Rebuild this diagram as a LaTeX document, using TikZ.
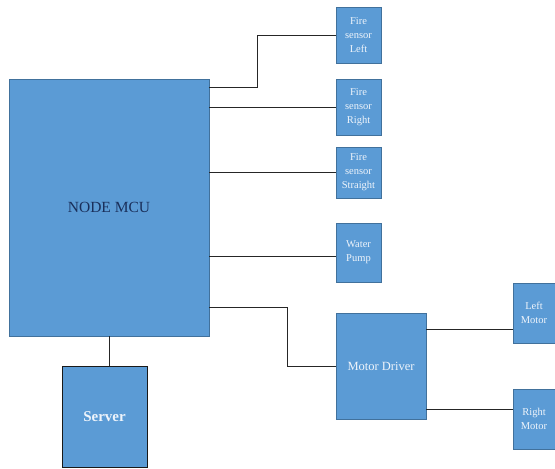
\documentclass[tikz,border=0pt]{standalone}
\usepackage{fontspec}
\setmainfont{Liberation Serif}
\usepackage{tikz}
\usetikzlibrary{calc}
\definecolor{boxblue}{HTML}{5B9BD5}
\definecolor{edgeblue}{HTML}{41719C}
\definecolor{paletext}{HTML}{EEF4FB}
\definecolor{navy}{HTML}{1A2F5A}
\tikzset{block/.style={draw=edgeblue,fill=boxblue,line width=0.8pt,align=center,inner sep=1pt,text=paletext,font=\fontsize{10.5}{14}\selectfont},
  link/.style={draw=black!85,line width=1pt}}

\begin{document}
\begin{tikzpicture}[x=1pt,y=-1pt]
\useasboundingbox (0,0) rectangle (555,469);
\node[block,minimum width=200,minimum height=257,text=navy,font=\fontsize{15.5}{18}\selectfont] (mcu) at (109,207.5) {NODE MCU};
\node[block,minimum width=45,minimum height=56] (fsl) at (358.5,35) {Fire\\sensor\\Left};
\node[block,minimum width=45,minimum height=56] (fsr) at (358.5,107) {Fire\\sensor\\Right};
\node[block,minimum width=45,minimum height=51] (fss) at (358.5,172.5) {Fire\\sensor\\Straight};
\node[block,minimum width=45,minimum height=59] (wp) at (358.5,252.5) {Water\\Pump};
\node[block,minimum width=90,minimum height=106,font=\fontsize{12.5}{14}\selectfont] (md) at (381,366) {Motor Driver};
\node[block,minimum width=42,minimum height=60] (lm) at (534,313) {Left\\Motor};
\node[block,minimum width=42,minimum height=60] (rm) at (534,419) {Right\\Motor};
\node[block,draw=black!90,line width=1pt,minimum width=85,minimum height=101,font=\fontsize{15}{18}\selectfont\bfseries] (srv) at (104.5,416.5) {Server};
\draw[link] (mcu.east |- 0,87) -- (257,87) |- (fsl.west);
\draw[link] (mcu.east |- fsr.west) -- (fsr.west);
\draw[link] (mcu.east |- fss.west) -- (fss.west);
\draw[link] (mcu.east |- 0,256) -- (wp.west |- 0,256);
\draw[link] (mcu.east |- 0,307) -- (287,307) |- (md.west);
\draw[link] (md.east |- 0,329) -- (lm.west |- 0,329);
\draw[link] (md.east |- 0,409) -- (rm.west |- 0,409);
\draw[link] (mcu.south) -- (mcu.south |- srv.north);
\end{tikzpicture}
\end{document}
